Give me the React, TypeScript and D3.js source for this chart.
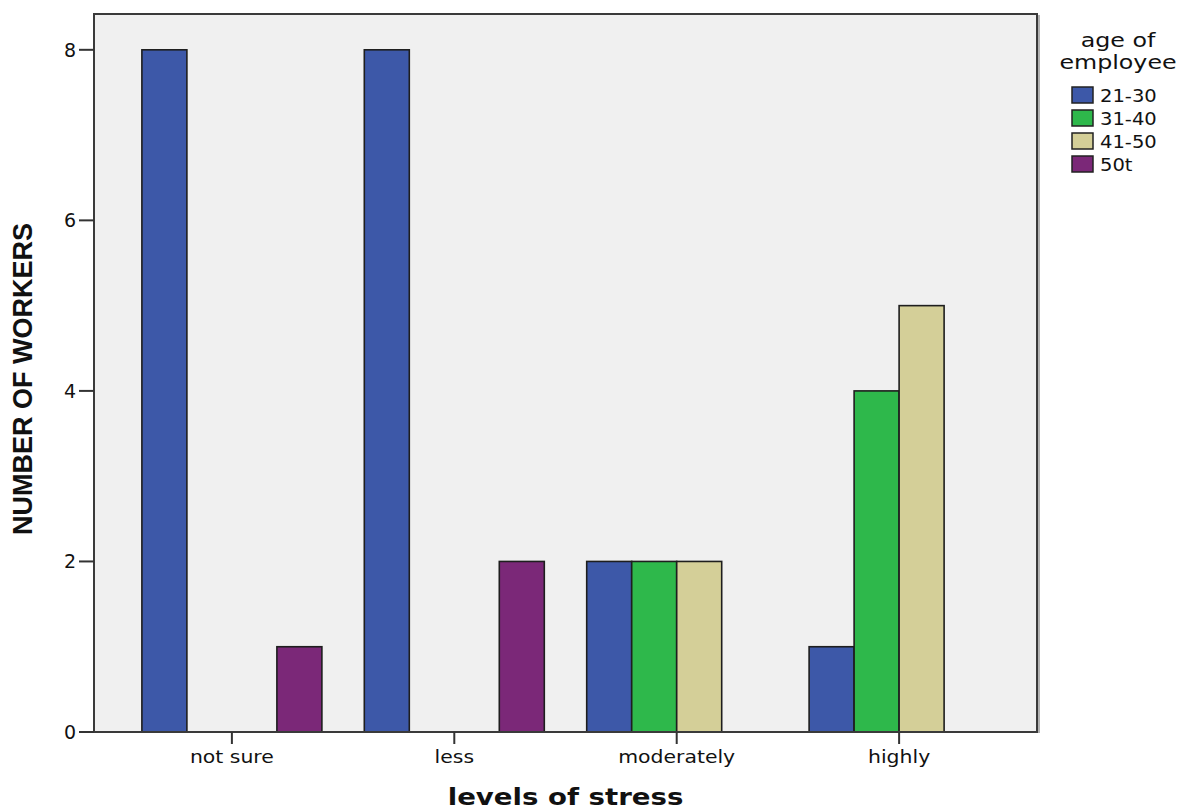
import React from "react";
import * as d3 from "d3";

const categories = ["not sure", "less", "moderately", "highly"];
const seriesNames = ["21-30", "31-40", "41-50", "50t"];
const seriesColors = ["#3d58a8", "#2eb84b", "#d4cf98", "#7b2878"];
// counts per age group, one array per series, ordered as categories
const age21to30 = [8, 8, 2, 1];
const age31to40 = [0, 0, 2, 4];
const age41to50 = [0, 0, 2, 5];
const age50plus = [1, 2, 0, 0];
const yTicks = [0, 2, 4, 6, 8];

const seriesValues = [age21to30, age31to40, age41to50, age50plus];

const W = 1187;
const H = 810;
const plot = { left: 94, right: 1037, top: 14, bottom: 732 };
const FONT = "'DejaVu Sans', Verdana, sans-serif";

function SText({ x, y, sx = 1.2, anchor = "middle", size, weight = "normal", children }: any) {
  return (
    <text
      transform={`translate(${x},${y}) scale(${sx},1)`}
      textAnchor={anchor}
      fontFamily={FONT}
      fontSize={size}
      fontWeight={weight}
      fill="#111"
    >
      {children}
    </text>
  );
}

export default function App() {
  const x = d3.scalePoint<string>().domain(categories).range([plot.left, plot.right]).padding(0.62);
  const inner = d3.scaleBand<string>().domain(seriesNames).range([-90, 90]);
  const y = d3.scaleLinear().domain([0, 8.42]).range([plot.bottom, plot.top]);

  const bars: any[] = [];
  categories.forEach((c, ci) => {
    seriesNames.forEach((s, si) => {
      const v = seriesValues[si][ci];
      if (v > 0) bars.push({ c, s, si, v });
    });
  });

  return (
    <svg width={W} height={H} style={{ position: "absolute", left: 0, top: 0, background: "#fff" }}>
      <rect x={plot.left} y={plot.top} width={plot.right - plot.left} height={plot.bottom - plot.top} fill="#f0f0f0" />
      {bars.map((b, i) => (
        <rect
          key={i}
          x={(x(b.c) as number) + (inner(b.s) as number)}
          y={y(b.v)}
          width={inner.bandwidth()}
          height={y(0) - y(b.v)}
          fill={seriesColors[b.si]}
          stroke="#1e1e1e"
          strokeWidth={1.6}
        />
      ))}
      <rect x={plot.left} y={plot.top} width={plot.right - plot.left} height={plot.bottom - plot.top} fill="none" stroke="#3a3a3a" strokeWidth={2} />
      <line x1={plot.right + 2} y1={plot.top + 1} x2={plot.right + 2} y2={plot.bottom + 1} stroke="#999" strokeWidth={1.5} />
      {yTicks.map((t) => (
        <g key={t}>
          <line x1={plot.left - 15} x2={plot.left} y1={y(t)} y2={y(t)} stroke="#333" strokeWidth={2} />
          <SText x={plot.left - 18} y={y(t) + 7} anchor="end" size={19} sx={1}>{t}</SText>
        </g>
      ))}
      {categories.map((c) => (
        <g key={c}>
          <line x1={x(c)} x2={x(c)} y1={plot.bottom} y2={plot.bottom + 12} stroke="#333" strokeWidth={2} />
          <SText x={x(c)} y={plot.bottom + 31} size={17}>{c}</SText>
        </g>
      ))}
      <SText x={(plot.left + plot.right) / 2} y={805} size={23} weight="bold" sx={1.2}>levels of stress</SText>
      <text
        transform={`translate(32,${(plot.top + plot.bottom) / 2 + 6}) rotate(-90)`}
        textAnchor="middle"
        fontFamily="'Liberation Sans', Arial, sans-serif"
        fontWeight="bold"
        fontSize={27}
        fill="#111"
      >
        NUMBER OF WORKERS
      </text>
      <SText x={1118} y={47} size={19} sx={1.25}>age of</SText>
      <SText x={1118} y={69} size={19} sx={1.25}>employee</SText>
      {seriesNames.map((s, i) => (
        <g key={s}>
          <rect x={1072} y={87 + i * 23} width={21} height={16} fill={seriesColors[i]} stroke="#222" strokeWidth={1.5} />
          <SText x={1100} y={102 + i * 23} anchor="start" size={17} sx={1.15}>{s}</SText>
        </g>
      ))}
    </svg>
  );
}
